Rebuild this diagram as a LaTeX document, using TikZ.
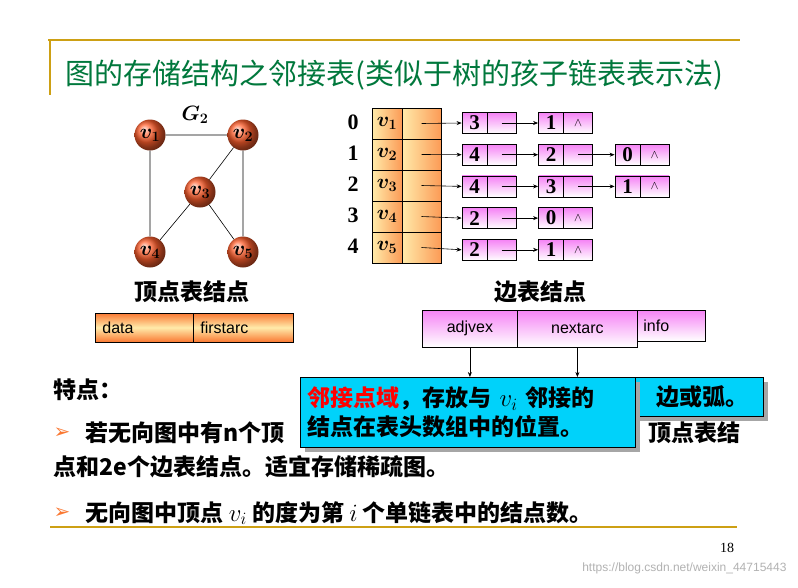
\documentclass[tikz,border=0pt]{standalone}
\usepackage{amsmath}
\usepackage{fontspec}
\setmainfont{Liberation Serif}
\newfontfamily\cjk{Noto Sans CJK SC}
\newfontfamily\sans{Liberation Sans}
\newfontfamily\dejavu{DejaVu Sans}
\usetikzlibrary{shadows,arrows.meta,calc}
\definecolor{gold}{RGB}{205,160,20}
\definecolor{titlegreen}{RGB}{0,120,60}
\definecolor{pinktop}{RGB}{245,130,245}
\definecolor{orangeA}{RGB}{250,120,50}
\definecolor{peach}{RGB}{255,235,170}
\definecolor{cyanbox}{RGB}{0,210,250}
\definecolor{ballred}{RGB}{255,95,45}
\tikzset{
 ball/.style={circle,shading=ball,ball color=ballred,minimum size=31pt,inner sep=0pt,font=\bfseries\fontsize{22}{22}\selectfont},
 vcell/.style={draw,line width=1pt,left color=peach,right color=orangeA!70!peach,minimum width=30pt,minimum height=31pt,inner sep=0pt,font=\fontsize{21}{21}\selectfont},
 pcell/.style={vcell,minimum width=39pt},
 ecell/.style={draw,line width=0.8pt,top color=pinktop,bottom color=white,minimum width=25pt,minimum height=21pt,inner sep=0pt,font=\bfseries\fontsize{21}{21}\selectfont},
 epcell/.style={ecell,minimum width=29pt,font=\fontsize{12}{12}\selectfont},
 link/.style={-{Stealth[length=5pt,width=4pt]},line width=0.6pt},
 cjkt/.style={font=\cjk\bfseries\fontsize{23}{29}\selectfont},
 callout/.style={draw,fill=cyanbox,line width=0.8pt,drop shadow={fill=gray!70,opacity=1,shadow xshift=5pt,shadow yshift=-5pt}},
}
\begin{document}
\begin{tikzpicture}[x=1pt,y=-1pt]
\useasboundingbox (0,0) rectangle (798,587);
\fill[white] (0,0) rectangle (798,587);
% frame lines
\draw[gold,line width=1.2pt] (48,40) -- (740,40);
\draw[gold,line width=1.2pt] (50,40) -- (50,95);
\draw[gold,line width=1.2pt] (50,527) -- (737,527);
\node[anchor=west,text=titlegreen,font=\cjk\fontsize{29}{29}\selectfont] (title) at (62,75) {图的存储结构之邻接表(类似于树的孩子链表表示法)};
% graph
\node (g2) at (195,115) {\fontsize{22}{22}\selectfont $\boldsymbol{G_2}$};
\node[ball] (v1) at (150,135) {$\boldsymbol{v_1}$};
\node[ball] (v2) at (243,135) {$\boldsymbol{v_2}$};
\node[ball] (v3) at (200,192) {$\boldsymbol{v_3}$};
\node[ball] (v4) at (150,252) {$\boldsymbol{v_4}$};
\node[ball] (v5) at (243,252) {$\boldsymbol{v_5}$};
\draw[line width=0.6pt] (v1)--(v2) (v1)--(v4) (v2)--(v5) (v2)--(v3) (v3)--(v4) (v3)--(v5);
% vertex table
\foreach \i in {0,...,4}{
 \pgfmathtruncatemacro{\k}{\i+1}
 \node[vcell] (h\i) at (387,{123.5+31*\i}) {$\boldsymbol{v_{\k}}$};
 \node[pcell] (p\i) at (421.5,{123.5+31*\i}) {};
 \node[font=\bfseries\fontsize{22}{22}\selectfont] (n\i) at (353,{122+31*\i}) {\i};
}
% edge nodes
\newcommand\enode[4]{% row, col, value, last
 \node[ecell] (d#1#2) at ({474.5+76.5*#2},{123+31.7*#1}) {#3};
 \node[epcell] (q#1#2) at ({501.5+76.5*#2},{123+31.7*#1}) {#4};
}
\enode{0}{0}{3}{}\enode{0}{1}{1}{$\wedge$}
\enode{1}{0}{4}{}\enode{1}{1}{2}{}\enode{1}{2}{0}{$\wedge$}
\enode{2}{0}{4}{}\enode{2}{1}{3}{}\enode{2}{2}{1}{$\wedge$}
\enode{3}{0}{2}{}\enode{3}{1}{0}{$\wedge$}
\enode{4}{0}{2}{}\enode{4}{1}{1}{$\wedge$}
\foreach \i in {0,...,4}{\draw[link] (p\i.center) -- (d\i0.west);}
\foreach \i in {0,...,4}{\draw[link] (q\i0.center) -- (d\i1.west);}
\foreach \i in {1,2}{\draw[link] (q\i1.center) -- (d\i2.west);}
% labels
\node[cjkt] (vl) at (192,292) {顶点表结点};
\node[cjkt] (el) at (540,292) {边表结点};
\node[draw,line width=0.8pt,top color=orangeA,bottom color=orangeA,middle color=peach,minimum width=98pt,minimum height=29pt,anchor=west,text width=84pt,font=\sans\fontsize{16}{16}\selectfont] (data) at (95,327.5) {data};
\node[draw,line width=0.8pt,top color=orangeA,bottom color=orangeA,middle color=peach,minimum width=100pt,minimum height=29pt,anchor=west,text width=86pt,font=\sans\fontsize{16}{16}\selectfont] (fa) at (193,327.5) {firstarc};
\node[draw,line width=0.8pt,top color=pinktop,bottom color=white,minimum width=68pt,minimum height=31pt,anchor=west,text width=56pt,font=\sans\fontsize{16}{16}\selectfont] (info) at (637,325.5) {info};
\node[draw,line width=0.8pt,top color=pinktop,bottom color=white,minimum width=95pt,minimum height=37pt,anchor=west,text width=80pt,align=center,font=\sans\fontsize{16}{16}\selectfont] (adj) at (422,328.5) {adjvex\\[12pt]};
\node[draw,line width=0.8pt,top color=pinktop,bottom color=white,minimum width=120pt,minimum height=37pt,anchor=west,text width=105pt,align=center,font=\sans\fontsize{16}{16}\selectfont] (nxt) at (517,328.5) {nextarc\\[12pt]};
% features text
\node[cjkt,anchor=west] (tz) at (50,390) {特点：};
\node[anchor=west,text=orangeA,font=\dejavu\fontsize{20}{20}\selectfont] (b1) at (50,433) {\symbol{"27A2}};
\node[cjkt,anchor=west] (t1) at (82,433) {若无向图中有\textit{n}个顶};
\node[cjkt,anchor=east] (t1b) at (744,433) {顶点表结};
\node[cjkt,anchor=west] (t2) at (50,467) {点和2\textit{e}个边表结点。适宜存储稀疏图。};
\node[anchor=west,text=orangeA,font=\dejavu\fontsize{20}{20}\selectfont] (b2) at (50,513) {\symbol{"27A2}};
\node[cjkt,anchor=west] (t3) at (82,513) {无向图中顶点 $v_i$ 的度为第 $i$ 个单链表中的结点数。};
% callouts
\node[callout,minimum width=143pt,minimum height=39pt] (back) at (691.5,396.5) {};
\node[cjkt,anchor=east] (backt) at (752,397) {边或弧。};
\coordinate (fronttop) at (300,377);
\node[callout,anchor=north west,minimum width=335pt,minimum height=70pt,text width=320pt,align=left,cjkt,inner sep=6pt] (front) at (fronttop) {{\color{red}邻接点域}，存放与 $v_i$ 邻接的\\结点在表头数组中的位置。};
\draw[link] (adj.south) -- (adj.south |- front.north);
\draw[link] (nxt.south) -- (nxt.south |- front.north);
% page number, watermark
\node[font=\fontsize{14}{14}\selectfont] (pg) at (727,548) {18};
\node[anchor=east,text=gray!60,font=\sans\fontsize{12}{12}\selectfont] (wm) at (790,568) {https://blog.csdn.net/weixin\_44715443};
\end{tikzpicture}
\end{document}
